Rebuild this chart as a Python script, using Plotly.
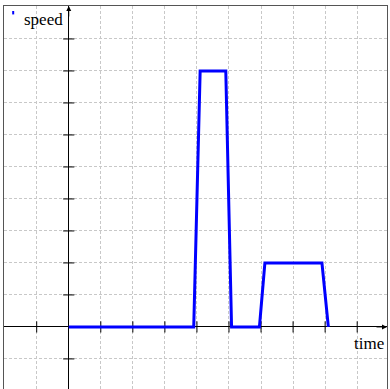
import plotly.graph_objects as go

# data
time = [0, 3.9, 4.1, 4.9, 5.08, 5.95, 6.12, 7.9, 8.1]
speed = [0, 0, 8, 8, 0, 0, 2, 2, 0]
x_ticks = [-1, 1, 2, 3, 4, 5, 6, 7, 8, 9]
y_ticks = [-1, 1, 2, 3, 4, 5, 6, 7, 8, 9]
x_range = [-2.02, 9.93]
y_range = [-1.94, 10.03]

SERIF = "Liberation Serif"

fig = go.Figure()

# tick marks crossing the axes
fig.add_trace(go.Scatter(
    x=x_ticks, y=[0] * len(x_ticks), mode="markers",
    marker=dict(symbol="line-ns", size=8, line=dict(color="black", width=1)),
    hoverinfo="skip", showlegend=False))
fig.add_trace(go.Scatter(
    x=[0] * len(y_ticks), y=y_ticks, mode="markers",
    marker=dict(symbol="line-ew", size=8, line=dict(color="black", width=1)),
    hoverinfo="skip", showlegend=False))

fig.add_trace(go.Scatter(
    x=time, y=speed, mode="lines", name="speed",
    line=dict(color="#0000ff", width=3), showlegend=False))

axis_common = dict(
    showgrid=True, gridcolor="#c8c8c8", griddash="3px,2px", gridwidth=1,
    dtick=1, tick0=0, showticklabels=False, ticks="",
    zeroline=True, zerolinecolor="black", zerolinewidth=1.2,
    showline=True, linecolor="#555555", linewidth=1, mirror=True,
)
fig.update_xaxes(range=x_range, **axis_common)
fig.update_yaxes(range=y_range, **axis_common)

# arrowheads at axis ends
fig.add_annotation(x=0, y=y_range[1], ax=0, ay=12, xref="x", yref="y",
                   showarrow=True, arrowhead=2, arrowsize=1, arrowwidth=1,
                   arrowcolor="black", text="")
fig.add_annotation(x=x_range[1], y=0, ax=-12, ay=0, xref="x", yref="y",
                   showarrow=True, arrowhead=2, arrowsize=1, arrowwidth=1,
                   arrowcolor="black", text="")

# axis labels
fig.add_annotation(x=x_range[1], y=0, xref="x", yref="y", text="time",
                   showarrow=False, xanchor="right", yanchor="top",
                   xshift=-1, yshift=-5,
                   font=dict(family=SERIF, size=17, color="black"))

# legend-like label
fig.add_annotation(x=0.046, y=0.995, xref="paper", yref="paper", text="speed",
                   showarrow=False, xanchor="left", yanchor="top",
                   font=dict(family=SERIF, size=17, color="black"))
fig.add_shape(type="line", xref="paper", yref="paper",
              x0=0.024, x1=0.024, y0=0.978, y1=0.987,
              line=dict(color="#0000ff", width=2))

fig.update_layout(
    width=390, height=389,
    margin=dict(l=4, r=3, t=6, b=0),
    plot_bgcolor="white", paper_bgcolor="white",
    showlegend=False,
    font=dict(family=SERIF),
)

fig.write_html(
    "out.html",
    config={"displayModeBar": False},
    post_script="document.body.style.margin='0';document.body.style.padding='0';",
)
